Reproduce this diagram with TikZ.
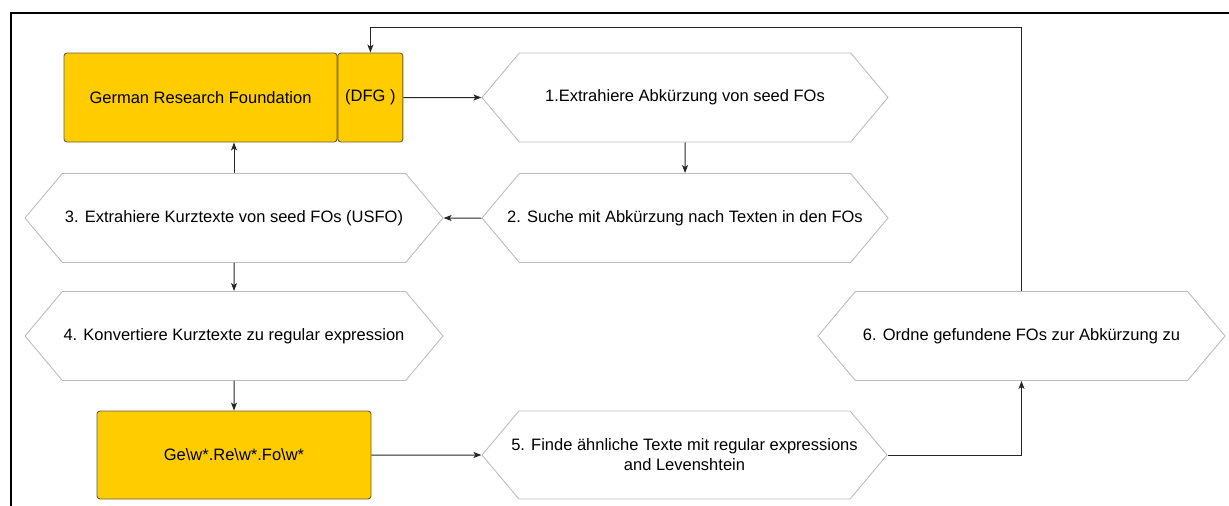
\documentclass[tikz,border=0pt]{standalone}
\usepackage{fontspec}
\setmainfont{Liberation Sans}
\usetikzlibrary{shapes.symbols, arrows.meta, positioning}
\definecolor{dfgyellow}{HTML}{FFCC00}
\definecolor{boxedge}{HTML}{6E5E32}
\definecolor{hexgray}{HTML}{BDBDBD}
\definecolor{flowgray}{HTML}{262626}

\tikzset{
  hexstep/.style={signal, signal to=west and east, signal pointer angle=100,
    draw=hexgray, line width=0.9pt, minimum height=89pt, inner ysep=0pt,
    inner xsep=-40pt, align=center, font=\fontsize{16.5}{20}\selectfont},
  yellowbox/.style={rectangle, draw=boxedge, fill=dfgyellow, line width=0.9pt,
    rounded corners=3pt, minimum height=89pt, inner sep=0pt,
    font=\fontsize{16.5}{20}\selectfont},
  flow/.style={draw=flowgray, line width=1pt, -{Stealth[length=8pt,width=6pt,inset=2pt]}}
}

\begin{document}
\begin{tikzpicture}[x=1pt, y=-1pt]
  \useasboundingbox (0,0) rectangle (1229,506);
  % frame
  \draw[line width=2pt] (11,506) -- (11,13) -- (1229,13);

  % yellow boxes
  \node[yellowbox, minimum width=273pt] (grf) at (200.5,97.5) {German Research Foundation};
  \node[yellowbox, minimum width=65pt, right=0pt of grf] (dfg) {(DFG )};
  \node[yellowbox, minimum width=274pt, minimum height=88pt] (regex) at (234,455) {Ge\textbackslash w*.Re\textbackslash w*.Fo\textbackslash w*};

  % steps
  \node[hexstep, minimum width=406pt] (s1) at (685,97.5) {1.Extrahiere Abkürzung von seed FOs};
  \node[hexstep, minimum width=406pt] (s2) at (685,218) {2. Suche mit Abkürzung nach Texten in den FOs};
  \node[hexstep, minimum width=418pt] (s3) at (234,218) {3. Extrahiere Kurztexte von seed FOs (USFO)};
  \node[hexstep, minimum width=418pt] (s4) at (234,336) {4. Konvertiere Kurztexte zu regular expression};
  \node[hexstep, minimum width=405pt, minimum height=88pt] (s5) at (684.5,455) {5. Finde ähnliche Texte mit regular expressions\\and Levenshtein};
  \node[hexstep, minimum width=407pt] (s6) at (1021.5,336) {6. Ordne gefundene FOs zur Abkürzung zu};

  \coordinate (top) at (0,27);

  % connectors
  \draw[flow] (dfg) -- (s1);
  \draw[flow] (s1) -- (s2);
  \draw[flow] (s2) -- (s3);
  \draw[flow] (s3.north) -- (s3.north |- grf.south);
  \draw[flow] (s3) -- (s4);
  \draw[flow] (s4) -- (regex);
  \draw[flow] (regex) -- (s5);
  \draw[flow] (s5.east) -| (s6.south);
  \draw[flow] (s6.north) -- (s6.north |- top) -| (dfg.north);
\end{tikzpicture}
\end{document}
